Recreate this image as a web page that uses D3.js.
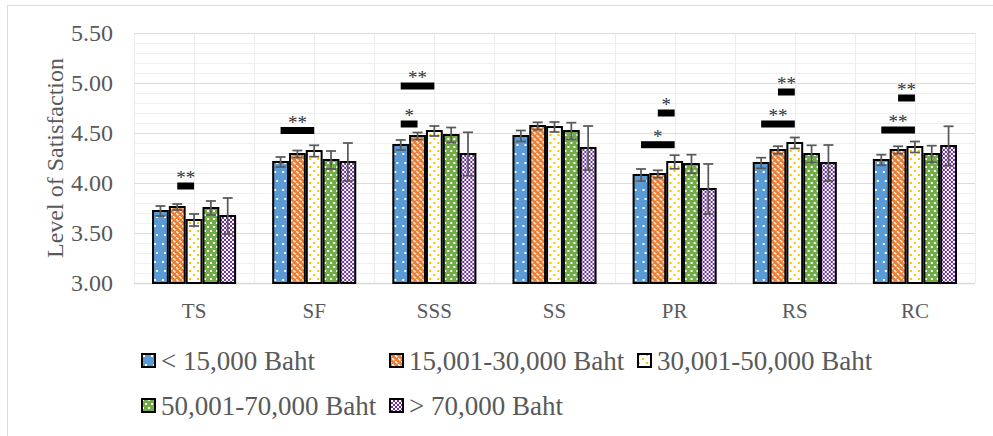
<!DOCTYPE html>
<html>
<head>
<meta charset="utf-8">
<script src="https://cdn.jsdelivr.net/npm/d3@7.9.0/dist/d3.min.js"></script>
<style>
  body { margin: 0; background: #fff; }
  svg { display: block; font-family: "Liberation Serif", "Times New Roman", serif; }
</style>
</head>
<body>
<svg id="chart" width="993" height="436"></svg>
<script>
const categories = ['TS', 'SF', 'SSS', 'SS', 'PR', 'RS', 'RC'];
const seriesNames = ['< 15,000 Baht', '15,001-30,000 Baht', '30,001-50,000 Baht', '50,001-70,000 Baht', '> 70,000 Baht'];

// mean per income group, one array per category order above
const lt15 = [3.72, 4.21, 4.38, 4.47, 4.08, 4.20, 4.23];
const b15to30 = [3.76, 4.29, 4.47, 4.57, 4.09, 4.33, 4.33];
const b30to50 = [3.63, 4.32, 4.52, 4.56, 4.21, 4.40, 4.36];
const b50to70 = [3.75, 4.23, 4.48, 4.52, 4.19, 4.29, 4.29];
const gt70 = [3.67, 4.21, 4.29, 4.35, 3.94, 4.20, 4.37];

// error half-widths
const errLt15 = [0.05, 0.05, 0.05, 0.055, 0.06, 0.053, 0.053];
const err15to30 = [0.03, 0.035, 0.035, 0.037, 0.037, 0.038, 0.037];
const err30to50 = [0.06, 0.057, 0.05, 0.05, 0.068, 0.055, 0.055];
const err50to70 = [0.07, 0.09, 0.075, 0.083, 0.093, 0.087, 0.083];
const errGt70 = [0.18, 0.19, 0.217, 0.22, 0.25, 0.18, 0.197];

const yTicks = [3.0, 3.5, 4.0, 4.5, 5.0, 5.5];

// significance markers: category, from bar, to bar, level, label
const sigCat = ['TS', 'SF', 'SSS', 'SSS', 'PR', 'PR', 'RS', 'RS', 'RC', 'RC'];
const sigFrom = [1, 0, 0, 0, 0, 1, 0, 1, 0, 1];
const sigTo = [2, 2, 1, 2, 2, 2, 2, 2, 2, 2];
const sigLevel = [3.97, 4.525, 4.59, 4.97, 4.383, 4.70, 4.59, 4.91, 4.53, 4.85];
const sigLabel = ['**', '**', '*', '**', '*', '*', '**', '**', '**', '**'];

const values = [lt15, b15to30, b30to50, b50to70, gt70];
const errors = [errLt15, err15to30, err30to50, err50to70, errGt70];
const colors = ['#5B9BD5', '#ED7D31', '#FFC000', '#70AD47', '#7030A0'];

const svg = d3.select('#chart');
const margin = { left: 134, right: 18, top: 33, bottom: 153 };
const width = 993 - margin.left - margin.right;
const height = 436 - margin.top - margin.bottom;

// patterns
const defs = svg.append('defs');
function pat(id, w, h, bg, dots, dotColor, sz) {
  const p = defs.append('pattern').attr('id', id)
    .attr('patternUnits', 'userSpaceOnUse').attr('width', w).attr('height', h);
  p.append('rect').attr('width', w).attr('height', h).attr('fill', bg);
  dots.forEach(([x, y]) => {
    p.append('rect').attr('x', x).attr('y', y)
      .attr('width', sz).attr('height', sz).attr('fill', dotColor);
  });
}
pat('p0', 8, 18, colors[0], [[4, 3], [2, 12]], '#fff', 2);
pat('p1', 6, 6, colors[1], [[0, 0], [3, 3], [1, 1], [4, 4]], '#fff', 1.5);
pat('p2', 8, 8, '#fff', [[1, 1], [5, 5]], colors[2], 2);
pat('p3', 6, 8, colors[3], [[1, 1], [4, 5]], '#fff', 2);
pat('p4', 4, 4, colors[4], [[0, 0], [2, 2]], '#fff', 2);

// chart frame
svg.append('rect').attr('x', 7.5).attr('y', 5.5).attr('width', 1000).attr('height', 440)
  .attr('fill', 'none').attr('stroke', '#D9D9D9');

const g = svg.append('g').attr('transform', `translate(${margin.left},${margin.top})`);

const x0 = d3.scaleBand().domain(categories).range([0, width]).paddingInner(0.3).paddingOuter(0.15);
const x1 = d3.scaleBand().domain(d3.range(5)).range([0, x0.bandwidth()]);
const y = d3.scaleLinear().domain([3, 5.5]).range([height, 0]);

// gridlines
g.append('g').selectAll('line').data(d3.range(30, 55).map((v) => v / 10).filter((v) => Math.round(v * 10) % 5 !== 0))
  .join('line')
  .attr('x1', 0).attr('x2', width)
  .attr('y1', (d) => Math.round(y(d)) + 0.5).attr('y2', (d) => Math.round(y(d)) + 0.5)
  .attr('stroke', '#EFEFEF');
const step = width / categories.length;
g.append('g').selectAll('line').data(d3.range(0, categories.length * 2 + 1))
  .join('line')
  .attr('x1', (d) => Math.round(d * step / 2) + 0.5).attr('x2', (d) => Math.round(d * step / 2) + 0.5)
  .attr('y1', 0).attr('y2', height)
  .attr('stroke', '#EDEDED');
g.append('g').selectAll('line').data(yTicks)
  .join('line')
  .attr('x1', 0).attr('x2', width)
  .attr('y1', (d) => Math.round(y(d)) + 0.5).attr('y2', (d) => Math.round(y(d)) + 0.5)
  .attr('stroke', (d) => d === 3 ? '#D9D9D9' : '#DCDCDC')
  .attr('stroke-width', (d) => d === 3 ? 1.5 : 1);

// y axis labels
const yAxis = g.append('g').call(d3.axisLeft(y).tickValues(yTicks).tickFormat(d3.format('.2f')).tickSize(0).tickPadding(21));
yAxis.select('.domain').remove();
yAxis.selectAll('text').attr('font-size', 24).attr('fill', '#595959')
  .attr('font-family', '"Liberation Serif", serif');

// x axis labels
const xAxis = g.append('g').attr('transform', `translate(0,${height})`)
  .call(d3.axisBottom(x0).tickSize(0).tickPadding(20));
xAxis.select('.domain').remove();
xAxis.selectAll('text').attr('font-size', 21).attr('fill', '#595959')
  .attr('font-family', '"Liberation Serif", serif');

// y title
svg.append('text')
  .attr('transform', `translate(63,${margin.top + height / 2}) rotate(-90)`)
  .attr('text-anchor', 'middle')
  .attr('font-size', 24).attr('fill', '#595959')
  .text('Level of Satisfaction');

// bars
const groups = g.selectAll('.grp').data(categories).join('g')
  .attr('class', 'grp')
  .attr('transform', (d) => `translate(${x0(d)},0)`);

groups.each(function (cat, ci) {
  const grp = d3.select(this);
  values.forEach((vals, si) => {
    const v = vals[ci];
    grp.append('rect')
      .attr('x', x1(si) + 1).attr('y', y(v))
      .attr('width', x1.bandwidth() - 2).attr('height', y(3) - y(v))
      .attr('fill', `url(#p${si})`)
      .attr('stroke', '#000').attr('stroke-width', 2);
  });
  values.forEach((vals, si) => {
    const v = vals[ci];
    const e = errors[si][ci];
    const cx = x1(si) + x1.bandwidth() / 2;
    const eg = grp.append('g').attr('stroke', '#595959').attr('stroke-width', 1.75);
    eg.append('line').attr('x1', cx).attr('x2', cx).attr('y1', y(v + e)).attr('y2', y(v - e));
    eg.append('line').attr('x1', cx - 5).attr('x2', cx + 5).attr('y1', y(v + e)).attr('y2', y(v + e));
    eg.append('line').attr('x1', cx - 5).attr('x2', cx + 5).attr('y1', y(v - e)).attr('y2', y(v - e));
  });
});

// significance markers
sigCat.forEach((cat, i) => {
  const xa = x0(cat) + x1(sigFrom[i]) + x1.bandwidth() / 2;
  const xb = x0(cat) + x1(sigTo[i]) + x1.bandwidth() / 2;
  const yc = y(sigLevel[i]);
  g.append('text')
    .attr('x', (xa + xb) / 2).attr('y', yc - 2)
    .attr('text-anchor', 'middle').attr('font-size', 19).attr('fill', '#333')
    .text(sigLabel[i]);
  g.append('rect').attr('x', xa).attr('y', yc - 3.5)
    .attr('width', xb - xa).attr('height', 7).attr('fill', '#000');
});

// legend
const legendX = [141, 389, 637, 141, 389];
const legendY = [361, 361, 361, 406, 406];
const legend = svg.append('g');
seriesNames.forEach((name, i) => {
  const lg = legend.append('g').attr('transform', `translate(${legendX[i]},${legendY[i]})`);
  lg.append('rect').attr('x', 1).attr('y', -7).attr('width', 13).attr('height', 13)
    .attr('fill', `url(#p${i})`).attr('stroke', '#000').attr('stroke-width', 2);
  lg.append('text').attr('x', 20).attr('y', 9)
    .attr('font-size', 27).attr('fill', '#595959')
    .text(name);
});
</script>
</body>
</html>
